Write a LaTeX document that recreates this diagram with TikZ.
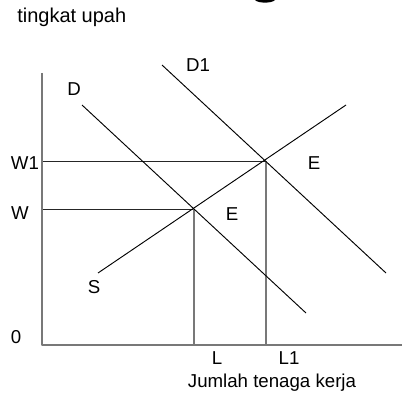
\documentclass[tikz,border=0pt]{standalone}
\usepackage{fontspec}
\setmainfont{Liberation Sans}

\begin{document}
\begin{tikzpicture}[x=0.75pt,y=-0.75pt,line cap=butt,line join=round,
    lbl/.style={font=\fontsize{14}{16}\selectfont,inner sep=0pt,anchor=base}]
  \definecolor{axisgray}{RGB}{120,120,120}

  \useasboundingbox (0,0) rectangle (402,395);

  % cut-off glyph at the top edge
  \fill[black] (255,0) .. controls (258,3.5) and (272,3.5) .. (275,0) -- cycle;

  % key points
  \coordinate (O) at (42,345);
  \coordinate (ytop) at (42,73);
  \coordinate (xend) at (402,345);
  \coordinate (E0) at (194,209);
  \coordinate (E1) at (266,161);
  \coordinate (Wax) at (42,209);
  \coordinate (W1ax) at (42,161);
  \coordinate (Lax) at (194,345);
  \coordinate (L1ax) at (266,345);

  % curve ends
  \coordinate (Dtop) at (82,105);
  \coordinate (Dbot) at (306,313);
  \coordinate (D1top) at (162,65);
  \coordinate (D1bot) at (386,273);
  \coordinate (Sbot) at (98,273);
  \coordinate (Stop) at (346,105);

  % guide lines
  \draw[black!85,line width=0.65pt] (Wax) -- (E0);
  \draw[black!85,line width=0.65pt] (W1ax) -- (E1);
  \draw[axisgray,line width=1.4pt] (Lax) -- (E0);
  \draw[axisgray,line width=1.4pt] (L1ax) -- (E1);

  % axes
  \draw[axisgray,line width=1.5pt] (ytop) -- (O) -- (xend);

  % demand and supply
  \draw[black,line width=0.7pt] (Dtop) -- (Dbot);
  \draw[black,line width=0.7pt] (D1top) -- (D1bot);
  \draw[black,line width=0.7pt] (Sbot) -- (Stop);

  % labels
  \node[lbl,anchor=base west,font=\fontsize{15}{17}\selectfont] (ylab) at (17,23) {tingkat upah};
  \node[lbl] (xlab) at (272,387) {Jumlah tenaga kerja};
  \node[lbl] (labD) at (74,96) {D};
  \node[lbl] (labD1) at (198,72) {D1};
  \node[lbl] (labS) at (94,293) {S};
  \node[lbl] (labE1) at (314,169) {E};
  \node[lbl] (labE0) at (232,220) {E};
  \node[lbl] (labW1) at (25,169) {W1};
  \node[lbl] (labW) at (20,219) {W};
  \node[lbl] (lab0) at (16,343) {0};
  \node[lbl] (labL) at (217,364) {L};
  \node[lbl] (labL1) at (289,364) {L1};
\end{tikzpicture}
\end{document}
